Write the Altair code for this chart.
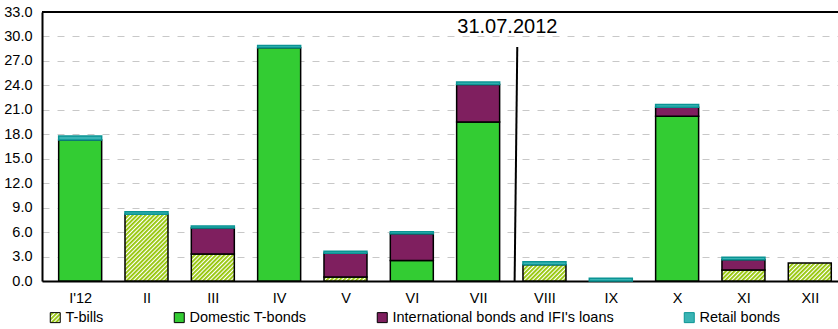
import json
import altair as alt
import pandas as pd

# ---- data ----
months = ["I'12", "II", "III", "IV", "V", "VI", "VII", "VIII", "IX", "X", "XI", "XII"]
series = ["T-bills", "Domestic T-bonds", "International bonds and IFI's loans", "Retail bonds"]
t_bills = [0, 8.2, 3.3, 0, 0.5, 0, 0, 2.0, 0, 0, 1.35, 2.2]
domestic = [17.3, 0, 0, 28.6, 0, 2.5, 19.5, 0, 0, 20.2, 0, 0]
international = [0, 0, 3.2, 0, 2.9, 3.3, 4.6, 0, 0, 1.1, 1.25, 0]
retail = [0.5, 0.3, 0.25, 0.3, 0.25, 0.25, 0.3, 0.35, 0.35, 0.35, 0.3, 0]
y_ticks = [0, 3, 6, 9, 12, 15, 18, 21, 24, 27, 30, 33]
marker_label = "31.07.2012"

fills = ["url(#hatch)", "#33cc33", "#7f1f5f", "#3ab4b4"]
strokes = ["black", "black", "black", "#0a9494"]

rows = []
for s_i, (name, vals) in enumerate(zip(series, [t_bills, domestic, international, retail])):
    for m_i, v in enumerate(vals):
        if v > 0:
            rows.append({"idx": m_i, "month": months[m_i], "series": name, "ord": s_i, "value": v})
df = pd.DataFrame(rows)

X_DOMAIN = [-0.5, 11.35]
xscale = alt.Scale(domain=X_DOMAIN, nice=False, zero=False)
yscale = alt.Scale(domain=[0, 33], nice=False)


def x_axis():
    return alt.Axis(values=list(range(12)),
                    labelExpr=json.dumps(months) + "[datum.value]",
                    grid=False, ticks=False, domain=True, domainColor="black",
                    domainWidth=2, labelPadding=10, labelFontSize=14.5,
                    labelColor="black", labelFont="Liberation Sans",
                    labelOverlap=False, title=None)


def y_axis():
    return alt.Axis(values=y_ticks, format=".1f", grid=True, gridDash=[7, 8],
                    gridColor="#c8c8c8", gridWidth=1, ticks=False, domain=True,
                    domainColor="black", domainWidth=2, labelPadding=10,
                    labelFontSize=14.5, labelColor="black",
                    labelFont="Liberation Sans", labelOverlap=False, title=None)


legend_cfg = dict(orient="none", legendX=6, legendY=298, direction="horizontal",
                  columns=4, columnPadding=68, title=None, symbolType="square",
                  symbolSize=100, symbolStrokeWidth=1, labelFontSize=14.5,
                  labelColor="black", labelOffset=3, labelFont="Liberation Sans",
                  labelLimit=500)

bars = alt.Chart(df).mark_bar(size=43, strokeWidth=1.5).encode(
    x=alt.X("idx:Q", scale=xscale, axis=x_axis()),
    y=alt.Y("value:Q", stack="zero", scale=yscale, axis=y_axis()),
    fill=alt.Fill("series:N", scale=alt.Scale(domain=series, range=fills),
                  legend=alt.Legend(**legend_cfg)),
    stroke=alt.Stroke("series:N", scale=alt.Scale(domain=series, range=strokes),
                      legend=alt.Legend(**legend_cfg)),
    order=alt.Order("ord:Q"),
)

top_frame = alt.Chart(pd.DataFrame({"y": [33]})).mark_rule(color="black", strokeWidth=2).encode(
    y=alt.Y("y:Q", scale=yscale, axis=y_axis())
)

marker_df = pd.DataFrame({"x": [6.59], "x2": [6.55], "y": [28.7], "y2": [0.0],
                          "tx": [6.44], "ty": [31.1], "label": [marker_label]})
marker_line = alt.Chart(marker_df).mark_rule(color="black", strokeWidth=2).encode(
    x=alt.X("x:Q", scale=xscale, axis=x_axis()), x2="x2:Q",
    y=alt.Y("y:Q", scale=yscale, axis=y_axis()), y2="y2:Q",
)
marker_text = alt.Chart(marker_df).mark_text(
    font="Liberation Sans Narrow, Arial Narrow, Liberation Sans", fontSize=20,
    color="black", baseline="middle", align="center"
).encode(
    x=alt.X("tx:Q", scale=xscale, axis=x_axis()),
    y=alt.Y("ty:Q", scale=yscale, axis=y_axis()),
    text="label:N"
)

chart = alt.layer(bars, top_frame, marker_line, marker_text).properties(
    width=796, height=269,
    autosize=alt.AutoSizeParams(type="none"),
    padding={"left": 42, "top": 12, "right": 0, "bottom": 48},
).configure_view(stroke=None).configure(font="Liberation Sans")

DEFS = ('<svg width="0" height="0" style="position:absolute;left:0;top:0">'
        '<defs><pattern id="hatch" patternUnits="userSpaceOnUse" width="3" height="3" '
        'patternTransform="rotate(45)"><rect width="3" height="3" fill="white"/>'
        '<rect width="1.8" height="3" fill="#92c400"/></pattern></defs></svg>')


class _HatchTemplate:
    def render(self, **kw):
        import altair.utils.html as _h
        html = _h.HTML_TEMPLATE.render(**kw)
        if "<body>" in html:
            return html.replace("<body>", "<body>" + DEFS, 1)
        return DEFS + html


try:
    chart.save("out.html", embed_options={"renderer": "svg", "actions": False},
               template=_HatchTemplate())
except Exception:
    chart.save("out.html", embed_options={"renderer": "svg", "actions": False})
